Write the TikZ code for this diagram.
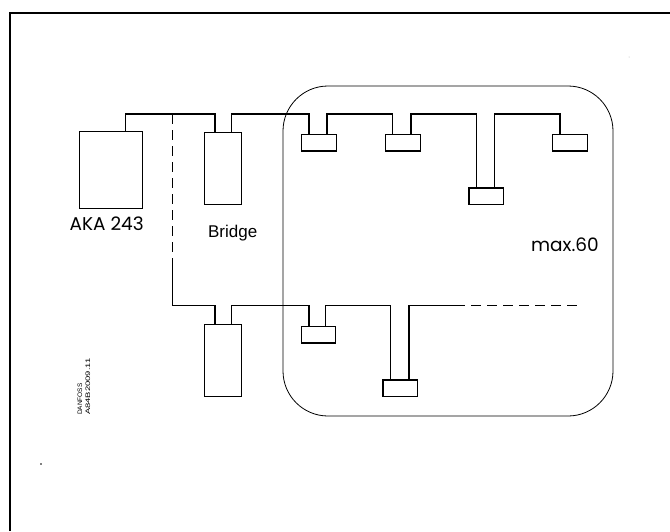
\documentclass[tikz,border=0pt]{standalone}
\usepackage{fontspec}
\setmainfont{Liberation Sans}
\newfontfamily\geo{Poppins}
\begin{document}
\begin{tikzpicture}[x=1pt,y=-1pt,
  ln/.style={line width=1.2pt},
  box/.style={draw, line width=1.2pt, inner sep=0pt, anchor=north west},
  small/.style={box, minimum width=34.5pt, minimum height=16.3pt},
  big/.style={box, minimum width=37pt, minimum height=72pt},
  dsh/.style={line width=1.2pt, dash pattern=on 10pt off 6pt},
  geolbl/.style={font=\geo\fontsize{18.5}{20}\selectfont, inner sep=0pt},
  arlbl/.style={font=\fontsize{17}{19}\selectfont, inner sep=0pt}]
\useasboundingbox (0,0) rectangle (670,531);
% frame
\draw[line width=1.6pt] (10,531) -- (10,13) -- (670,13);
% max.60 region
\draw[line width=0.8pt, rounded corners=45pt] (283,86) rectangle (613,416);
% boxes
\node[box, minimum width=63pt, minimum height=77pt] (aka) at (79,131) {};
\node[big] (br1) at (204,132) {};
\node[big] (br2) at (204,324) {};
\node[small] (t1) at (301,134) {};
\node[small] (t2) at (385,134) {};
\node[small] (t3) at (468.3,187.3) {};
\node[small] (t4) at (552,134) {};
\node[small] (l1) at (300.7,326) {};
\node[small] (l2) at (382.3,379.3) {};
% bus coordinates
\coordinate (topbus) at (0,114);
\coordinate (lowbus) at (0,305.7);
\coordinate (dA) at (172.7,114);
\coordinate (dB) at (172.7,265);
\coordinate (dC) at (172.7,305.7);
\coordinate (eA) at (455,305.7);
\coordinate (eB) at (578,305.7);
% top bus
\draw[ln] ([xshift=14.5pt]aka.north) -- ([xshift=14.5pt]aka.north |- topbus) -| ([xshift=11pt]br1.north west);
\draw[ln] ([xshift=27.7pt]br1.north west) -- ([xshift=27.7pt]br1.north west |- topbus) -| ([xshift=8pt]t1.north west);
\draw[ln] ([xshift=26pt]t1.north west) -- ([xshift=26pt]t1.north west |- topbus) -| ([xshift=7.7pt]t2.north west);
\draw[ln] ([xshift=26pt]t2.north west) -- ([xshift=26pt]t2.north west |- topbus) -| ([xshift=8pt]t3.north west);
\draw[ln] ([xshift=26.4pt]t3.north west) -- ([xshift=26.4pt]t3.north west |- topbus) -| ([xshift=8pt]t4.north west);
% branch down to lower bus
\draw[dsh] (dA) -- (dB);
\draw[ln] (dB) -- (dC) -| ([xshift=11pt]br2.north west);
% lower bus
\draw[ln] ([xshift=27.7pt]br2.north west) -- ([xshift=27.7pt]br2.north west |- lowbus) -| ([xshift=8.3pt]l1.north west);
\draw[ln] ([xshift=25pt]l1.north west) -- ([xshift=25pt]l1.north west |- lowbus) -| ([xshift=8.4pt]l2.north west);
\draw[ln] ([xshift=26.7pt]l2.north west) -- ([xshift=26.7pt]l2.north west |- lowbus) -- (eA);
\draw[dsh] (eA) -- (eB);
% labels
\node[geolbl] (akal) at (106.7,223.3) {AKA 243};
\node[arlbl] (brl) at (232.7,232.7) {Bridge};
\node[geolbl] (maxl) at (565,245) {max.60};
\node[rotate=90, anchor=west, align=left, inner sep=0pt, font=\fontsize{6.5}{8}\selectfont] (dan) at (84,415) {DANFOSS\\\scalebox{1.45}[1]{A84B2009.11}};
% stray dots
\fill (41,464) circle (0.8pt);
\fill[gray!60] (629,57) circle (0.5pt);
\end{tikzpicture}
\end{document}
